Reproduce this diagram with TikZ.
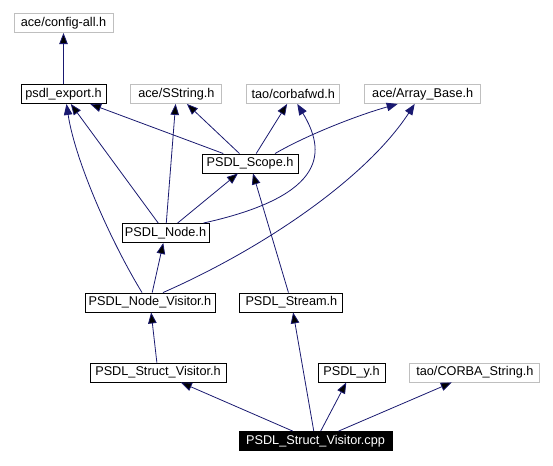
\documentclass[tikz,border=0pt]{standalone}
\usepackage{fontspec}
\setmainfont{Liberation Sans}
\usetikzlibrary{
  positioning,
  arrows.meta
}
\definecolor{edgeblue}{RGB}{25,25,112}
\definecolor{extgray}{RGB}{191,191,191}

\begin{document}
\begin{tikzpicture}[x=1pt, y=-1pt, node distance = 51pt and 24pt,
    box/.style = {rectangle, inner sep=0pt, minimum height=19pt,
      line width=0.9pt, font=\fontsize{12.7}{14}\selectfont},
    header/.style = {box, draw=black},
    external/.style = {box, draw=extgray},
    current/.style = {box, draw=black, fill=black, text=white},
    dep/.style = {draw=edgeblue, line width=0.8pt,
      -{Triangle[length=11pt,width=8.5pt]}}]
    \useasboundingbox (0,0) rectangle (553,465);

    \node[header, minimum width=85pt] at (63.5,94) (export) {psdl\_export.h};
    \node[external, minimum width=99pt, above = of export] (config) {ace/config-all.h};
    \node[external, minimum width=91pt, right = of export] (sstring) {ace/SString.h};
    \node[external, minimum width=93pt, right = of sstring] (corbafwd) {tao/corbafwd.h};
    \node[external, minimum width=116pt, right = of corbafwd] (arraybase) {ace/Array\_Base.h};
    \node[header, minimum width=96pt] at (250,163.5) (scope) {PSDL\_Scope.h};
    \node[header, minimum width=87pt] at (165.5,233) (pnode) {PSDL\_Node.h};
    \node[header, minimum width=130pt] at (150,302.5) (nodevisitor) {PSDL\_Node\_Visitor.h};
    \node[header, minimum width=103pt, right = of nodevisitor] (stream) {PSDL\_Stream.h};
    \node[header, minimum width=136pt] at (158,372.5) (structvisitor) {PSDL\_Struct\_Visitor.h};
    \node[header, minimum width=67pt] at (351.5,372.5) (psdly) {PSDL\_y.h};
    \node[external, minimum width=130pt, right = of psdly] (corbastring) {tao/CORBA\_String.h};
    \node[current, minimum width=153pt] at (315.5,441) (cpp) {PSDL\_Struct\_Visitor.cpp};

    \draw[dep] (export) edge (config);
    \draw[dep] (scope) edge (export);
    \draw[dep] (scope) edge (sstring);
    \draw[dep] (scope) edge (corbafwd);
    \draw[dep] ([xshift=25pt]scope.north) .. controls (305,136) and (355,116) .. ([xshift=-25pt]arraybase.south);
    \draw[dep] (pnode) edge (export);
    \draw[dep] (pnode) edge (sstring);
    \draw[dep] (pnode) edge (scope);
    \draw[dep] ([xshift=-6pt]pnode.north east) .. controls (330,195) and (325,150) .. ([xshift=4pt]corbafwd.south);
    \draw[dep] ([xshift=-8pt]nodevisitor.north) .. controls (110,240) and (75,160) .. ([xshift=3pt]export.south);
    \draw[dep] (nodevisitor) edge (pnode);
    \draw[dep] ([xshift=13pt]nodevisitor.north) .. controls (260,250) and (365,180) .. ([xshift=-8pt]arraybase.south);
    \draw[dep] (stream) edge (scope);
    \draw[dep] (structvisitor) edge (nodevisitor);
    \draw[dep] (cpp) edge (structvisitor);
    \draw[dep] (cpp) edge (stream);
    \draw[dep] (cpp) edge (psdly);
    \draw[dep] (cpp) edge (corbastring);
  \end{tikzpicture}
\end{document}
